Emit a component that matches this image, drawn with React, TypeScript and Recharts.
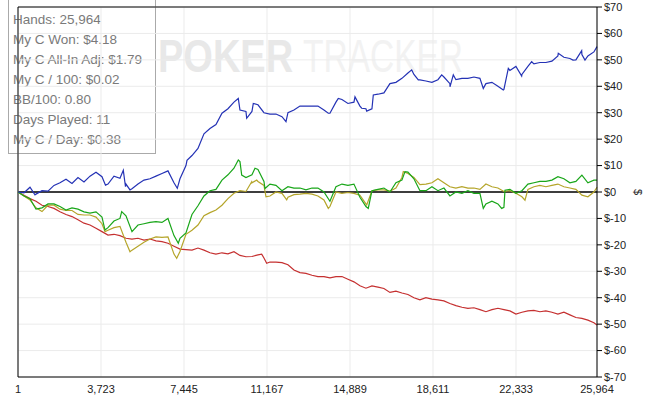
import { LineChart, Line, XAxis, YAxis, CartesianGrid, ReferenceLine } from "recharts"

const hands = [
  1, 270, 539, 808, 1077, 1346, 1615, 1884, 2153, 2422,
  2691, 2960, 3229, 3498, 3767, 4036, 4305, 4574, 4843, 5112,
  5381, 5650, 5919, 6188, 6457, 6726, 6995, 7264, 7533, 7802,
  8071, 8340, 8609, 8878, 9147, 9416, 9685, 9954, 10223, 10492,
  10761, 11030, 11299, 11568, 11837, 12106, 12375, 12644, 12913, 13182,
  13451, 13720, 13989, 14258, 14527, 14796, 15065, 15334, 15603, 15872,
  16141, 16410, 16679, 16948, 17217, 17486, 17755, 18024, 18293, 18562,
  18831, 19100, 19369, 19638, 19907, 20176, 20445, 20714, 20983, 21252,
  21521, 21790, 22059, 22328, 22597, 22866, 23135, 23404, 23673, 23942,
  24211, 24480, 24749, 25018, 25287, 25556, 25825, 25964,
]

// won (blue)
const blue = [
  0, -0.3, 1.8, -0.8, 0.5, 0.3, 2.5, 3.5, 4.8, 3.2,
  5.5, 3.8, 6, 7.5, 5.8, 3, 6, 5.2, 3, 1.2,
  3, 4.5, 5, 6, 7, 8, 3.5, 5, 10, 13.8,
  16.5, 22, 24, 25.5, 29.8, 31.5, 34, 31, 30.5, 30.5,
  33, 30, 29.5, 29.5, 28.5, 30, 31, 32.5, 32.5, 32.5,
  32.5, 31, 29.8, 34, 35, 33.5, 34, 32.5, 31.5, 31.5,
  37, 37.5, 41, 41.5, 43, 45, 44.5, 42.4, 42, 41.5,
  42.5, 43.5, 41, 42.5, 43, 43, 43.5, 43, 41, 41.5,
  40, 38.8, 46, 47.5, 44.5, 47.5, 48.5, 49, 49, 49.5,
  51.5, 51, 50.5, 50, 52, 51.5, 53, 55,
]
// spikes read between the grid points
const blueSpikeHands = [763, 3924, 4723, 4821, 5023, 7144, 7579, 9879, 10256, 10552, 12018, 13915, 14363, 15112, 15412, 15637, 15933, 17655, 17951, 19000, 19372, 19520, 20865, 21762, 21987, 22586, 23035, 24228, 24887, 25277, 25425]
const blueSpikes = [-1.1, 2.6, 8.2, 2, 0.8, 1.4, 12, 35.4, 27.9, 33.5, 26.6, 29.8, 35.4, 36, 31.7, 30.6, 36.7, 46.2, 42.4, 44.3, 39.8, 44.3, 39.2, 38.6, 46.8, 43.9, 49.3, 52.5, 49.9, 53.5, 49.9]

const green = [
  0, -1.5, -2.5, -6.5, -6, -4.5, -4.5, -5.5, -6.8, -6,
  -6.5, -7.5, -8, -7.5, -9.5, -13.5, -11, -10, -9, -15,
  -12.5, -12, -11.5, -11.2, -11.5, -10, -16.5, -17.5, -15.5, -8.5,
  -5.2, -1.5, 0.5, 1, 4.5, 6.5, 9, 11.5, 5.5, 6.5,
  8.5, 4, 3, 2.5, 0.5, 2, 1.5, 1.5, 0.8, 1.5,
  1.5, 0, -3.5, 2, 3, 2.5, 3, -2, -5.5, 0.5,
  1, 1.5, 0, 3.5, 4.5, 7.5, 5, 0.5, 0.5, 2,
  0.5, 1.5, -1.5, 0, -0.5, 0.5, -0.5, -0.5, -4.5, -3.5,
  -4.5, -5.8, 1, -0.5, 0.5, 3, 3.5, 4, 4, 4.5,
  5.8, 5, 3.5, 4, 6.4, 3.5, 4.5, 4.5,
]
const greenSpikeHands = [3902, 4651, 7189, 9879, 10032, 10628, 11076, 15708, 17354, 20865, 21690, 21838]
const greenSpikes = [-14.4, -7.4, -19.4, 12.1, 6.4, 9, 1.3, -6.2, 7.7, -6.2, -6.2, 0.7]

const yellow = [
  0, -1.5, -3, -6, -7.4, -5, -5, -6.5, -7, -7,
  -8.5, -8.7, -8.7, -9.5, -12, -14.5, -13.5, -13, -19, -22,
  -20.5, -19, -17.8, -17, -17.2, -17, -23.5, -22.5, -16, -14.5,
  -12.5, -9, -7.8, -6.8, -5, -2.5, -0.5, 0.5, 0.2, 3.5,
  4, 2.5, -1.5, 0, -0.5, -2, -1, -0.8, -0.5, -0.8,
  -1.5, -3, -5.5, 0, -0.5, -0.2, -0.5, -1.2, -4.5, 0.5,
  0.8, 0.8, 0.3, 1.5, 5.5, 7, 5.5, 2.8, 3, 3.5,
  5, 3.5, 2, 1.5, 2, 1.5, 1.5, 1, 3, 2,
  1.5, 0.2, 0.5, -0.5, -1.8, 1, 2, 2.5, 2, 2.5,
  3, 2, 1.5, 1, -1.2, -1.8, 0, 1.8,
]
const yellowSpikeHands = [3902, 5023, 7117, 10480, 10704, 11121, 12050, 13915, 15637, 17278, 22735]
const yellowSpikes = [-15, -22.6, -25.1, 3.9, 4.5, -1.8, -3, -6.2, -4.9, 7.7, -3.1]

const red = [
  0, -1.2, -2.5, -3.5, -5, -5.5, -6.2, -7.5, -8.5, -9.3,
  -10.5, -11.8, -12.5, -13.7, -15, -16.3, -16, -16.5, -17.5, -17.8,
  -17.5, -18.2, -17.8, -18.5, -18.8, -19.4, -20.5, -21.6, -21.8, -22,
  -21.2, -22, -23, -23.5, -23, -23.4, -22.6, -24, -24.5, -24.4,
  -23.8, -25, -26.5, -26.5, -26.7, -27.5, -29.5, -30.5, -30.8, -31.5,
  -32, -32, -32.5, -32, -32, -33, -34, -35.5, -36.4, -35.5,
  -36, -36.5, -38, -37.5, -38.2, -38.8, -40, -40.8, -40, -40.5,
  -40.8, -41.2, -42.2, -43, -43.6, -44, -43.8, -44.5, -45.3, -44.5,
  -44, -44.5, -45, -46.2, -45.5, -45, -44.8, -45.3, -45, -45.5,
  -46.2, -45.5, -46.5, -47.5, -47.8, -48.5, -49.5, -50.3,
]
const redSpikeHands = [10928, 11152]
const redSpikes = [-23.5, -27]

const xTicks = [1, 3723, 7445, 11167, 14889, 18611, 22333, 25964]
const yTicks = [-70, -60, -50, -40, -30, -20, -10, 0, 10, 20, 30, 40, 50, 60, 70]

const stats = [
  "Hands: 25,964",
  "My C Won: $4.18",
  "My C All-In Adj: $1.79",
  "My C / 100: $0.02",
  "BB/100: 0.80",
  "Days Played: 11",
  "My C / Day: $0.38",
]

function series(base: number[], extraHands: number[], extra: number[]) {
  const pts = hands.map((h, i) => ({ hands: h, v: base[i] }))
  extraHands.forEach((h, i) => pts.push({ hands: h, v: extra[i] }))
  return pts.sort((a, b) => a.hands - b.hands)
}

const blueData = series(blue, blueSpikeHands, blueSpikes)
const greenData = series(green, greenSpikeHands, greenSpikes)
const yellowData = series(yellow, yellowSpikeHands, yellowSpikes)
const redData = series(red, redSpikeHands, redSpikes)

const font = "'Liberation Sans', Arial, sans-serif"

function DollarLabel(props: any) {
  const vb = props.viewBox || {}
  const cx = vb.x + vb.width - 12
  const cy = vb.y + vb.height / 2
  return (
    <text x={cx} y={cy} transform={`rotate(90 ${cx} ${cy})`} textAnchor="middle" dominantBaseline="central" fontSize={11} fill="#222" fontFamily={font}>
      $
    </text>
  )
}

export default function App() {
  return (
    <div style={{ position: "absolute", left: 0, top: 0, width: 650, height: 399, background: "#fff", fontFamily: font }}>
      <svg width={650} height={399} style={{ position: "absolute", left: 0, top: 0 }}>
        <text transform="translate(158 72) scale(1 1.24)" fontSize={38} fontWeight="bold" fill="#e8e8e8" fontFamily={font}>
          POKER
        </text>
        <text transform="translate(303 72) scale(1 1.4)" fontSize={33.5} fill="#f2f2f2" fontFamily={font}>
          TRACKER
        </text>
      </svg>
      <div
        style={{
          position: "absolute",
          left: 8,
          top: -1,
          width: 148,
          height: 155,
          border: "1px solid #aaa",
          background: "#fff",
          paddingTop: 10,
          paddingLeft: 4,
          boxSizing: "border-box",
          fontSize: 13.5,
          lineHeight: "20px",
          color: "#7a7a7a",
          whiteSpace: "nowrap",
        }}
      >
        {stats.map((s) => (
          <div key={s}>{s}</div>
        ))}
      </div>
      <div style={{ position: "absolute", left: 0, top: 0 }}>
        <LineChart width={650} height={399} margin={{ top: 7, right: 0, bottom: 0, left: 18 }}>
          <CartesianGrid stroke="#ebebeb" />
          <XAxis
            dataKey="hands"
            type="number"
            domain={[1, 25964]}
            ticks={xTicks}
            tickFormatter={(v: number) => v.toLocaleString("en-US")}
            height={22}
            tickLine={false}
            tickSize={4}
            tickMargin={4}
            stroke="#000"
            allowDuplicatedCategory={false}
            tick={{ fill: "#222", fontSize: 11, fontFamily: font }}
          />
          <YAxis
            orientation="right"
            domain={[-70, 70]}
            ticks={yTicks}
            tickFormatter={(v: number) => "$" + v}
            width={53}
            tickSize={5}
            tickMargin={2}
            stroke="#000"
            interval={0}
            tick={{ fill: "#222", fontSize: 11, fontFamily: font }}
            label={<DollarLabel />}
          />
          <ReferenceLine y={70} stroke="#000" />
          <ReferenceLine x={1} stroke="#000" />
          <ReferenceLine y={0} stroke="#000" strokeWidth={1.3} />
          <Line data={redData} dataKey="v" name="red" stroke="#c53030" strokeWidth={1.2} dot={false} isAnimationActive={false} />
          <Line data={yellowData} dataKey="v" name="yellow" stroke="#b5a52a" strokeWidth={1.2} dot={false} isAnimationActive={false} />
          <Line data={greenData} dataKey="v" name="green" stroke="#19a619" strokeWidth={1.2} dot={false} isAnimationActive={false} />
          <Line data={blueData} dataKey="v" name="blue" stroke="#2432b5" strokeWidth={1.2} dot={false} isAnimationActive={false} />
        </LineChart>
      </div>
    </div>
  )
}
